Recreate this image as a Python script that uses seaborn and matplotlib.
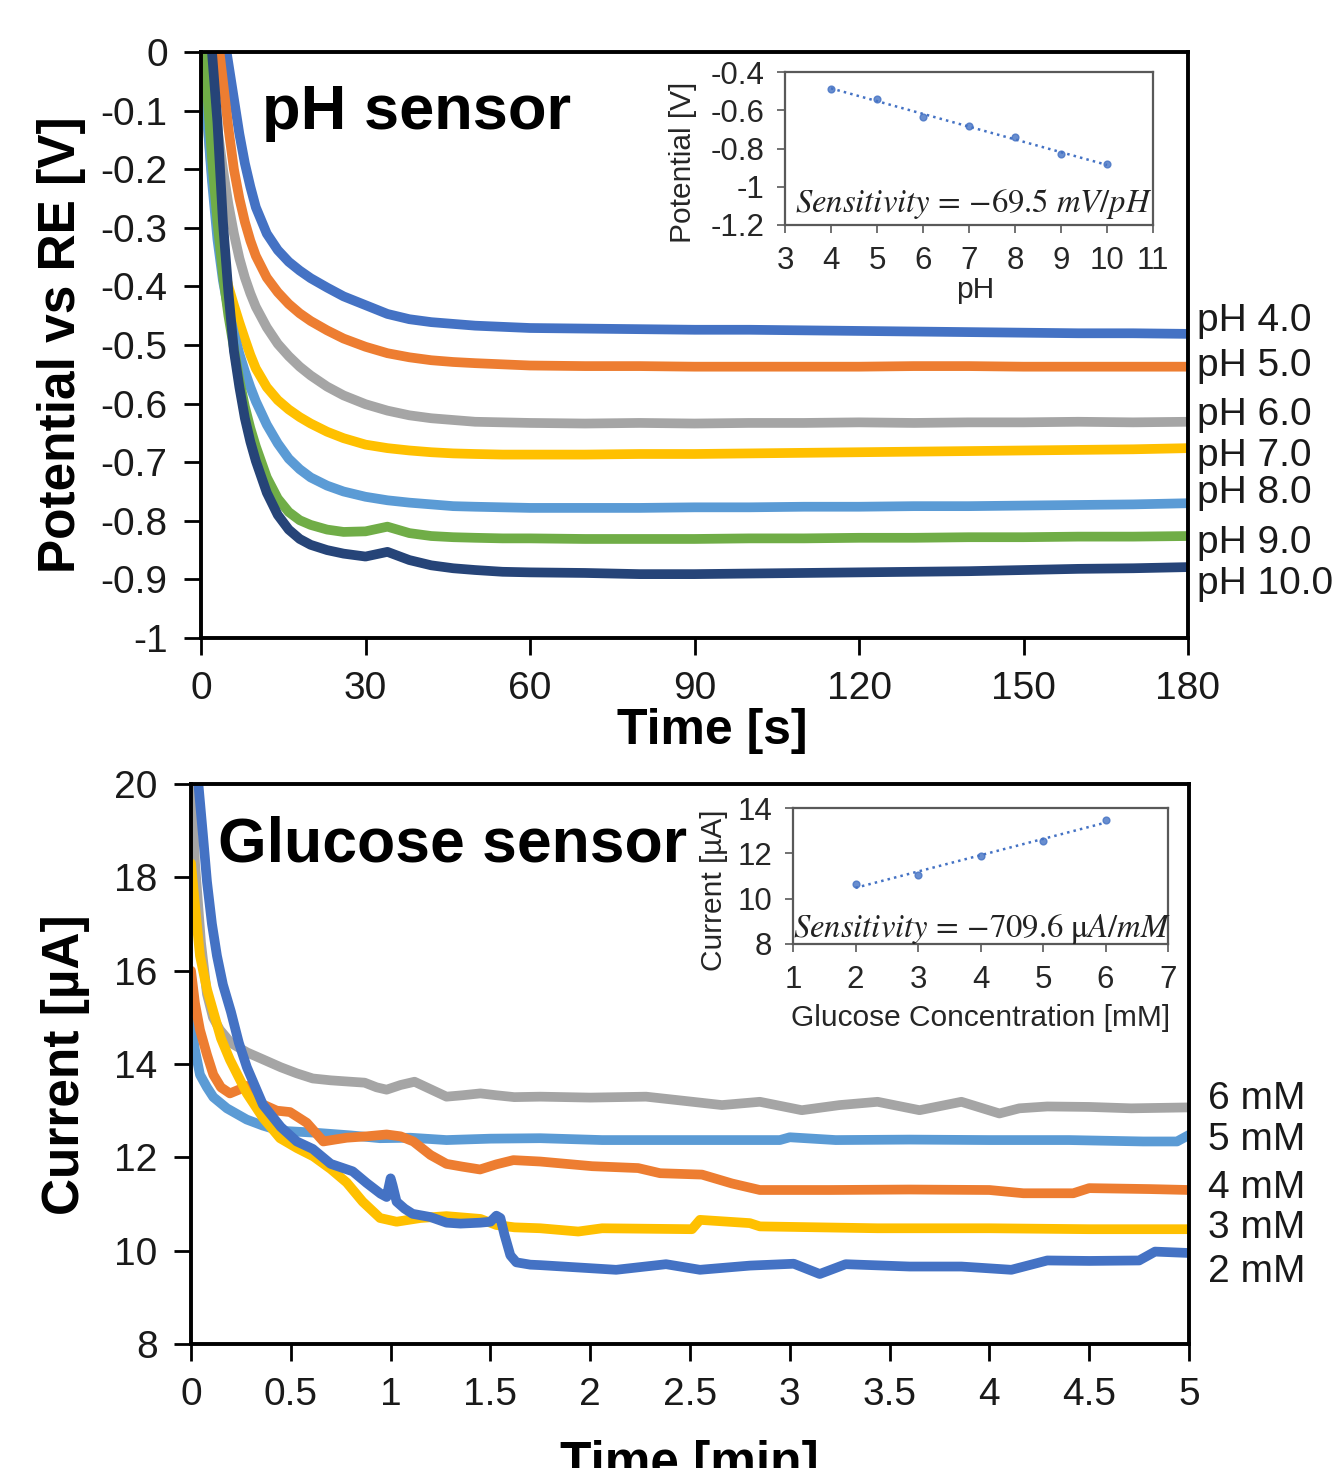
import numpy as np
import pandas as pd
import matplotlib
matplotlib.use("Agg")
import matplotlib.pyplot as plt
import seaborn as sns
from matplotlib.ticker import FuncFormatter, MultipleLocator

# ---------------- data: pH sensor (potential vs time) ----------------
ph_time = [0, 1, 2, 3, 4, 5, 6, 7, 8, 9, 10, 12, 14, 16, 18, 20, 23, 26, 30, 34, 38, 42,
           46, 50, 55, 60, 70, 80, 90, 100, 110, 120, 130, 140, 150, 160, 170, 180]
ph4 = [0.25, 0.2, 0.15, 0.1, 0.04, -0.02, -0.08, -0.14, -0.19, -0.23, -0.265,
       -0.31, -0.338, -0.358, -0.373, -0.386,
       -0.402, -0.417, -0.432, -0.447, -0.456, -0.461, -0.464, -0.467, -0.469, -0.471,
       -0.472, -0.473, -0.474, -0.474, -0.475, -0.476, -0.477, -0.478, -0.479, -0.48, -0.48, -0.481]
ph5 = [0.25, 0.18, 0.1, 0.03, -0.05, -0.13, -0.2, -0.25, -0.29, -0.322, -0.348,
       -0.385, -0.41, -0.43, -0.446, -0.459,
       -0.475, -0.489, -0.503, -0.514, -0.521, -0.526, -0.529, -0.531, -0.533, -0.535,
       -0.536, -0.536, -0.537, -0.537, -0.537, -0.537, -0.536, -0.536, -0.537, -0.537, -0.537, -0.537]
ph6 = [0.15, 0.05, -0.05, -0.13, -0.2, -0.26, -0.31, -0.352, -0.385, -0.412, -0.435,
       -0.47, -0.498, -0.519, -0.537, -0.552,
       -0.571, -0.586, -0.601, -0.612, -0.62, -0.625, -0.628, -0.631, -0.632, -0.633,
       -0.634, -0.633, -0.634, -0.633, -0.633, -0.632, -0.633, -0.632, -0.632, -0.631, -0.632, -0.631]
ph7 = [0.02, -0.1, -0.21, -0.3, -0.36, -0.4, -0.432, -0.462, -0.49, -0.517, -0.54,
       -0.572, -0.594, -0.61, -0.623, -0.634,
       -0.648, -0.659, -0.67, -0.676, -0.68, -0.683, -0.685, -0.686, -0.687, -0.687,
       -0.687, -0.686, -0.686, -0.685, -0.684, -0.683, -0.682, -0.681, -0.68, -0.679, -0.678, -0.676]
ph8 = [0.05, -0.1, -0.22, -0.32, -0.39, -0.44, -0.48, -0.515, -0.545, -0.572, -0.596,
       -0.636, -0.668, -0.694, -0.712, -0.726,
       -0.74, -0.75, -0.759, -0.765, -0.769, -0.772, -0.775, -0.776, -0.777, -0.778,
       -0.778, -0.778, -0.777, -0.777, -0.776, -0.776, -0.775, -0.775, -0.774, -0.773, -0.772, -0.77]
ph9 = [0.1, -0.05, -0.18, -0.29, -0.38, -0.45, -0.505, -0.56, -0.605, -0.642, -0.673,
       -0.726, -0.762, -0.785, -0.799, -0.807,
       -0.815, -0.819, -0.818, -0.81, -0.821, -0.826, -0.828, -0.829, -0.83, -0.83,
       -0.831, -0.831, -0.831, -0.83, -0.83, -0.829, -0.829, -0.828, -0.828, -0.827, -0.827, -0.826]
ph10 = [0.2, 0.1, 0.0, -0.12, -0.29, -0.41, -0.51, -0.572, -0.625, -0.665, -0.698,
        -0.752, -0.79, -0.815, -0.831, -0.841,
        -0.85, -0.856, -0.861, -0.853, -0.867, -0.876, -0.881, -0.884, -0.887, -0.888,
        -0.889, -0.891, -0.891, -0.89, -0.889, -0.888, -0.887, -0.886, -0.884, -0.882, -0.881, -0.879]
ph_names = ["pH 4.0", "pH 5.0", "pH 6.0", "pH 7.0", "pH 8.0", "pH 9.0", "pH 10.0"]
ph_colors = ["#4472C4", "#ED7D31", "#A5A5A5", "#FFC000", "#5B9BD5", "#70AD47", "#264478"]
ph_label_y = [-0.459, -0.536, -0.619, -0.689, -0.753, -0.838, -0.908]

# inset: calibration
ph_values = [4, 5, 6, 7, 8, 9, 10]
ph_potential = [-0.487, -0.542, -0.636, -0.682, -0.739, -0.831, -0.883]

# ---------------- data: glucose sensor (current vs time) ----------------
g6_t = [0, 0.02, 0.05, 0.08, 0.11, 0.145, 0.2, 0.28, 0.36, 0.45, 0.53, 0.61, 0.7, 0.8, 0.87,
        0.93, 0.98, 1.05, 1.12, 1.18, 1.28, 1.36, 1.45, 1.53, 1.62, 1.75, 2.0, 2.28, 2.45,
        2.66, 2.85, 3.06, 3.25, 3.44, 3.65, 3.86, 4.05, 4.15, 4.29, 4.5, 4.71, 5.0]
g6_i = [20.5, 18.3, 16.6, 15.5, 15.0, 14.73, 14.45, 14.25, 14.1, 13.93, 13.8, 13.69, 13.65,
        13.62, 13.6, 13.5, 13.45, 13.55, 13.62, 13.5, 13.3, 13.33, 13.37, 13.33, 13.29, 13.3,
        13.28, 13.3, 13.22, 13.12, 13.19, 13.01, 13.12, 13.19, 13.01, 13.19, 12.94, 13.05,
        13.09, 13.08, 13.05, 13.07]
g5_t = [0, 0.02, 0.045, 0.08, 0.112, 0.18, 0.279, 0.36, 0.446, 0.613, 0.8, 0.947, 1.1, 1.28,
        1.5, 1.75, 2.06, 2.5, 2.95, 3.0, 3.23, 3.6, 4.0, 4.4, 4.77, 4.94, 5.0]
g5_i = [14.9, 14.3, 13.77, 13.5, 13.29, 13.05, 12.81, 12.68, 12.57, 12.53, 12.47, 12.41, 12.42,
        12.37, 12.4, 12.41, 12.37, 12.37, 12.37, 12.43, 12.37, 12.38, 12.37, 12.37, 12.34, 12.34,
        12.48]
g4_t = [0, 0.02, 0.045, 0.08, 0.112, 0.15, 0.195, 0.24, 0.279, 0.32, 0.362, 0.43, 0.496, 0.58,
        0.663, 0.72, 0.78, 0.88, 0.98, 1.05, 1.114, 1.2, 1.28, 1.36, 1.448, 1.53, 1.615, 1.75,
        2.01, 2.24, 2.35, 2.56, 2.71, 2.85, 3.2, 3.6, 4.0, 4.17, 4.42, 4.5, 4.8, 5.0]
g4_i = [16.0, 15.3, 14.73, 14.2, 13.77, 13.5, 13.37, 13.45, 13.53, 13.3, 13.13, 13.0, 12.97,
        12.74, 12.34, 12.38, 12.42, 12.45, 12.49, 12.45, 12.34, 12.05, 11.86, 11.8, 11.74,
        11.85, 11.94, 11.91, 11.81, 11.77, 11.66, 11.63, 11.44, 11.3, 11.3, 11.31, 11.3,
        11.23, 11.23, 11.34, 11.32, 11.3]
g3_t = [0, 0.02, 0.045, 0.08, 0.112, 0.15, 0.195, 0.28, 0.36, 0.446, 0.53, 0.613, 0.7, 0.78,
        0.86, 0.947, 1.03, 1.15, 1.28, 1.45, 1.53, 1.62, 1.75, 1.94, 2.06, 2.51, 2.55, 2.8,
        2.85, 3.44, 4.0, 4.5, 5.0]
g3_i = [18.3, 17.4, 16.32, 15.6, 15.12, 14.55, 14.09, 13.37, 12.85, 12.41, 12.2, 12.02, 11.75,
        11.46, 11.05, 10.7, 10.62, 10.7, 10.74, 10.68, 10.55, 10.5, 10.48, 10.41, 10.48, 10.46,
        10.66, 10.59, 10.52, 10.48, 10.48, 10.46, 10.46]
g2_t = [0, 0.037, 0.06, 0.08, 0.105, 0.13, 0.16, 0.2, 0.24, 0.28, 0.36, 0.45, 0.53, 0.61, 0.7,
        0.81, 0.88, 0.95, 0.98, 1.0, 1.01, 1.03, 1.07, 1.11, 1.2, 1.28, 1.35, 1.45, 1.5, 1.53,
        1.55, 1.57, 1.6, 1.63, 1.7, 1.75, 2.13, 2.38, 2.55, 2.8, 3.02, 3.15, 3.28, 3.6, 3.86,
        4.11, 4.29, 4.5, 4.75, 4.83, 5.0]
g2_i = [21.5, 20.0, 18.9, 17.91, 17.0, 16.32, 15.7, 15.12, 14.45, 13.93, 13.13, 12.65, 12.34,
        12.18, 11.86, 11.7, 11.45, 11.22, 11.15, 11.55, 11.4, 11.05, 10.9, 10.79, 10.72, 10.6,
        10.58, 10.6, 10.62, 10.75, 10.7, 10.35, 9.9, 9.75, 9.7, 9.69, 9.59, 9.71, 9.59, 9.68,
        9.72, 9.5, 9.71, 9.66, 9.66, 9.59, 9.79, 9.78, 9.79, 9.98, 9.95]
glu_names = ["6 mM", "5 mM", "4 mM", "3 mM", "2 mM"]
glu_colors = ["#A5A5A5", "#5B9BD5", "#ED7D31", "#FFC000", "#4472C4"]
glu_label_y = [13.25, 12.37, 11.34, 10.49, 9.54]

# inset: calibration
glu_conc = [2, 3, 4, 5, 6]
glu_current = [10.63, 11.04, 11.89, 12.55, 13.47]

# ---------------- style ----------------
sns.set_theme(style="white")
plt.rcParams["font.family"] = ["Liberation Sans", "DejaVu Sans"]
plt.rcParams["axes.unicode_minus"] = False
plt.rcParams["mathtext.fontset"] = "stix"

W, H = 1337, 1468
fig = plt.figure(figsize=(W / 100, H / 100), dpi=100)
fig.patch.set_facecolor("white")


def box(l, t, r, b):
    return [l / W, 1 - b / H, (r - l) / W, (b - t) / H]


ax1 = fig.add_axes(box(201, 52, 1188, 638))
ax2 = fig.add_axes(box(191, 784, 1189, 1344))
ins1 = fig.add_axes(box(785, 72, 1153, 225))
ins2 = fig.add_axes(box(793, 808, 1168, 944))

# ---------------- top panel ----------------
ph_series = [ph4, ph5, ph6, ph7, ph8, ph9, ph10]
df_ph = pd.concat(
    [pd.DataFrame({"t": ph_time, "v": s, "series": n}) for s, n in zip(ph_series, ph_names)],
    ignore_index=True)
sns.lineplot(data=df_ph, x="t", y="v", hue="series", hue_order=ph_names,
             palette=dict(zip(ph_names, ph_colors)), estimator=None, sort=False,
             lw=7, legend=False, ax=ax1)
ax1.set_xlim(0, 180)
ax1.set_ylim(-1, 0)
ax1.xaxis.set_major_locator(MultipleLocator(30))
ax1.yaxis.set_major_locator(MultipleLocator(0.1))
ax1.yaxis.set_major_formatter(FuncFormatter(lambda v, p: f"{round(v, 1):g}"))
ax1.set_xlabel("")
ax1.set_ylabel("")
for n, y in zip(ph_names, ph_label_y):
    ax1.text(181.6, y, n, fontsize=28, ha="left", va="center", clip_on=False, color="#1a1a1a")
ax1.text(0.0618, 0.8686, "pH sensor", transform=ax1.transAxes, fontsize=45.5,
         fontweight="bold", ha="left", va="baseline", color="black")

# ---------------- bottom panel ----------------
glu_t = [g6_t, g5_t, g4_t, g3_t, g2_t]
glu_i = [g6_i, g5_i, g4_i, g3_i, g2_i]
df_glu = pd.concat(
    [pd.DataFrame({"t": t, "i": i, "series": n}) for t, i, n in zip(glu_t, glu_i, glu_names)],
    ignore_index=True)
sns.lineplot(data=df_glu, x="t", y="i", hue="series", hue_order=glu_names,
             palette=dict(zip(glu_names, glu_colors)), estimator=None, sort=False,
             lw=7, legend=False, ax=ax2)
ax2.set_xlim(0, 5)
ax2.set_ylim(8, 20)
ax2.xaxis.set_major_locator(MultipleLocator(0.5))
ax2.yaxis.set_major_locator(MultipleLocator(2))
ax2.xaxis.set_major_formatter(FuncFormatter(lambda v, p: f"{round(v, 1):g}"))
ax2.set_xlabel("")
ax2.set_ylabel("")
for n, y in zip(glu_names, glu_label_y):
    ax2.text(5.095, y, n, fontsize=28, ha="left", va="center", clip_on=False, color="#1a1a1a")
ax2.text(0.027, 0.861, "Glucose sensor", transform=ax2.transAxes, fontsize=45,
         fontweight="bold", ha="left", va="baseline", color="black")

for ax in (ax1, ax2):
    for sp in ax.spines.values():
        sp.set_visible(True)
        sp.set_color("black")
        sp.set_linewidth(2.8)
    ax.tick_params(axis="both", which="major", direction="out", length=12, width=2,
                   color="black", labelsize=28, labelcolor="#1a1a1a",
                   bottom=True, left=True, top=False, right=False)
    ax.tick_params(axis="x", pad=12)
    ax.tick_params(axis="y", pad=12)
    ax.set_facecolor("white")
    ax.grid(False)

# ---------------- insets ----------------
sns.regplot(x=ph_values, y=ph_potential, ax=ins1, ci=None, color="#4472C4",
            scatter_kws={"s": 24, "zorder": 3},
            line_kws={"ls": ":", "lw": 1.8, "color": "#4472C4"})
ins1.set_xlim(3, 11)
ins1.set_ylim(-1.2, -0.4)
ins1.xaxis.set_major_locator(MultipleLocator(1))
ins1.yaxis.set_major_locator(MultipleLocator(0.2))
ins1.yaxis.set_major_formatter(FuncFormatter(lambda v, p: f"{round(v, 1):g}"))
ins1.text(0.027, 0.085, r"$Sensitivity\, =\, \mathrm{-69.5}\ mV/pH$", transform=ins1.transAxes,
          fontsize=23.5, ha="left", va="baseline", color="#222222")

sns.regplot(x=glu_conc, y=glu_current, ax=ins2, ci=None, color="#4472C4",
            scatter_kws={"s": 24, "zorder": 3},
            line_kws={"ls": ":", "lw": 1.8, "color": "#4472C4"})
ins2.set_xlim(1, 7)
ins2.set_ylim(8, 14)
ins2.xaxis.set_major_locator(MultipleLocator(1))
ins2.yaxis.set_major_locator(MultipleLocator(2))
ins2.text(0.0, 0.05, r"$Sensitivity\, =\, \mathrm{-709.6}\ \mathrm{\mu}A/mM$", transform=ins2.transAxes,
          fontsize=23.5, ha="left", va="baseline", color="#222222")

for ins in (ins1, ins2):
    ins.set_facecolor("white")
    ins.set_xlabel("")
    ins.set_ylabel("")
    for sp in ins.spines.values():
        sp.set_visible(True)
        sp.set_color("#595959")
        sp.set_linewidth(1.6)
    ins.tick_params(axis="both", direction="out", length=6, width=1.2, color="#595959",
                    labelsize=22.5, labelcolor="#262626", bottom=True, left=True, pad=9)
    ins.grid(False)

# ---------------- axis titles (figure coords) ----------------
def ftext(x, y, s, **kw):
    fig.text(x / W, 1 - y / H, s, **kw)

ftext(62, 345, "Potential vs RE [V]", rotation=90, ha="center", va="center",
      fontsize=37, fontweight="bold", color="black")
ftext(712, 731, "Time [s]", ha="center", va="center", fontsize=36, fontweight="bold",
      color="black")
ftext(66, 1065, "Current [µA]", rotation=90, ha="center", va="center",
      fontsize=37, fontweight="bold", color="black")
ftext(689, 1478, "Time [min]", ha="center", va="baseline", fontsize=37, fontweight="bold",
      color="black")

ftext(683, 162, "Potential [V]", rotation=90, ha="center", va="center", fontsize=21.5,
      color="#262626")
ftext(975, 290, "pH", ha="center", va="center", fontsize=21.5, color="#262626")
ftext(714, 890, "Current [µA]", rotation=90, ha="center", va="center", fontsize=21.5,
      color="#262626")
ftext(981, 1018, "Glucose Concentration [mM]", ha="center", va="center", fontsize=21.5,
      color="#262626")

fig.savefig("out.png", dpi=100, facecolor="white")
